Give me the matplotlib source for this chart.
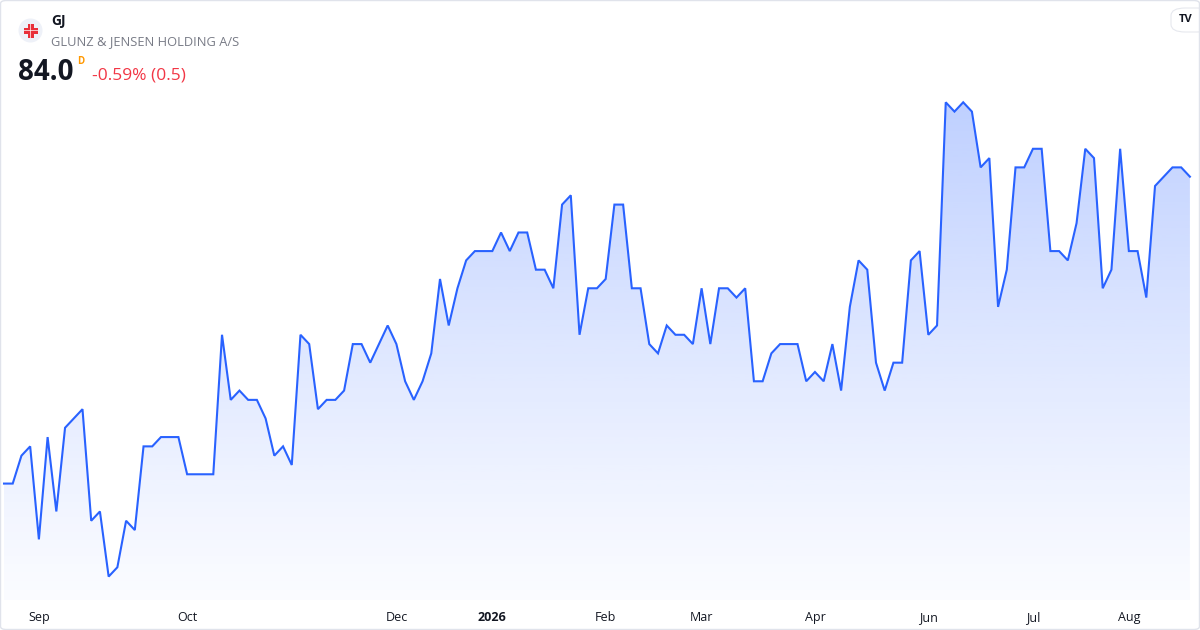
"""GJ (Glunz & Jensen Holding A/S) daily close, TradingView-style area chart."""

import matplotlib

matplotlib.use("Agg")
import matplotlib.pyplot as plt
import numpy as np
from matplotlib.patches import Circle, FancyBboxPatch, Rectangle

plt.rcParams["font.family"] = ["Open Sans", "DejaVu Sans"]

# Daily closes (DKK), one per traded session.
closes = [
    67.5, 67.5, 69.0, 69.5, 64.5, 70.0, 66.0, 70.5, 71.0, 71.5,
    65.5, 66.0, 62.5, 63.0, 65.5, 65.0, 69.5, 69.5, 70.0, 70.0,
    70.0, 68.0, 68.0, 68.0, 68.0, 75.5, 72.0, 72.5, 72.0, 72.0,
    71.0, 69.0, 69.5, 68.5, 75.5, 75.0, 71.5, 72.0, 72.0, 72.5,
    75.0, 75.0, 74.0, 75.0, 76.0, 75.0, 73.0, 72.0, 73.0, 74.5,
    78.5, 76.0, 78.0, 79.5, 80.0, 80.0, 80.0, 81.0, 80.0, 81.0,
    81.0, 79.0, 79.0, 78.0, 82.5, 83.0, 75.5, 78.0, 78.0, 78.5,
    82.5, 82.5, 78.0, 78.0, 75.0, 74.5, 76.0, 75.5, 75.5, 75.0,
    78.0, 75.0, 78.0, 78.0, 77.5, 78.0, 73.0, 73.0, 74.5, 75.0,
    75.0, 75.0, 73.0, 73.5, 73.0, 75.0, 72.5, 77.0, 79.5, 79.0,
    74.0, 72.5, 74.0, 74.0, 79.5, 80.0, 75.5, 76.0, 88.0, 87.5,
    88.0, 87.5, 84.5, 85.0, 77.0, 79.0, 84.5, 84.5, 85.5, 85.5,
    80.0, 80.0, 79.5, 81.5, 85.5, 85.0, 78.0, 79.0, 85.5, 80.0,
    80.0, 77.5, 83.5, 84.0, 84.5, 84.5, 84.0,
]

# Month labels sit on the session index where each month starts.
tick_index = [4, 21, 45, 56, 69, 80, 93, 106, 118, 129]
tick_labels = ["Sep", "Oct", "Dec", "2026", "Feb", "Mar", "Apr", "Jun", "Jul", "Aug"]

symbol = "GJ"
company = "GLUNZ & JENSEN HOLDING A/S"
last_price = "84.0"
change_text = "-0.59% (0.5)"

LINE = "#2962ff"
TEXT = "#131722"
GREY = "#787b86"
RED = "#f23645"

W, H = 1200, 630
fig = plt.figure(figsize=(W / 100, H / 100), dpi=100)
fig.patch.set_facecolor("white")

# plot pane: full width (minus hidden price scale), down to the time axis
ax = fig.add_axes([0.0, 30 / H, 1192 / W, 1 - 30 / H])
ax.set_facecolor("white")
for s in ax.spines.values():
    s.set_visible(False)

x = np.arange(len(closes))
y = np.array(closes)
y_bottom, y_top = 61.24, 93.5
ax.set_xlim(-0.46, 136.24)
ax.set_ylim(y_bottom, y_top)

# vertical gradient under the line, clipped to the area polygon
grad = np.linspace(0.0, 1.0, 256)
rgba = np.zeros((256, 1, 4))
rgba[..., 0] = 41 / 255
rgba[..., 1] = 98 / 255
rgba[..., 2] = 1.0
rgba[:, 0, 3] = 0.02 + 0.28 * grad ** 1.1
img = ax.imshow(
    rgba,
    aspect="auto",
    origin="lower",
    extent=(x[0], x[-1], y_bottom, y.max()),
    zorder=1,
    interpolation="bilinear",
)
poly = ax.fill_between(x, y, y_bottom, facecolor="none", edgecolor="none")
img.set_clip_path(poly.get_paths()[0], transform=ax.transData)

ax.plot(x, y, color=LINE, linewidth=1.5, solid_joinstyle="miter", zorder=3)

ax.set_yticks([])
ax.set_xticks(tick_index)
ax.set_xticklabels(tick_labels, fontsize=9, color=TEXT)
for lbl in ax.get_xticklabels():
    if lbl.get_text() == "2026":
        lbl.set_fontweight("bold")
ax.tick_params(axis="x", length=0, pad=8)


# header -------------------------------------------------------------
def px(xp, yp):
    return xp / W, 1 - yp / H


def inch(xp, yp):
    return xp / 100, (H - yp) / 100


# logo: pale round badge with a red cross
fig.patches.append(Circle(inch(30.5, 30.5), 0.12, transform=fig.dpi_scale_trans,
                          facecolor="#eef1f8", edgecolor="none"))
for (w, h) in [(6, 14), (14, 6)]:
    fig.patches.append(Rectangle(inch(30.5 - w / 2, 30.5 + h / 2), w / 100, h / 100,
                                 transform=fig.dpi_scale_trans, facecolor="#e8303a",
                                 edgecolor="none"))
for (w, h) in [(1, 14), (14, 1)]:
    fig.patches.append(Rectangle(inch(30.5 - w / 2, 30.5 + h / 2), w / 100, h / 100,
                                 transform=fig.dpi_scale_trans, facecolor="white",
                                 edgecolor="none", alpha=0.7))

fig.text(*px(51, 21), symbol, fontsize=10, fontweight="bold", color=TEXT, va="center")
fig.text(*px(51, 42), company, fontsize=9.3, color=GREY, va="center")
fig.text(*px(18, 73), last_price, fontsize=20, fontweight="bold", color=TEXT, va="center")
fig.text(*px(77, 62), "D", fontsize=7, fontweight="bold", color="#ff9800", va="center")
fig.text(*px(92, 76), change_text, fontsize=12.5, color=RED, va="center")

# TradingView badge top right
fig.patches.append(FancyBboxPatch(px(1171, 32), 40 / W, 24 / H,
                                  boxstyle="round,pad=0,rounding_size=0.012",
                                  transform=fig.transFigure, facecolor="white",
                                  edgecolor="#e6e8ee", linewidth=0.8))
fig.text(*px(1186, 20), "TV", fontsize=8, fontweight="bold", color=TEXT,
         ha="center", va="center")

# outer card border
fig.patches.append(FancyBboxPatch((0.5 / W, 0.5 / H), (W - 1) / W, (H - 1) / H,
                                  boxstyle="round,pad=0,rounding_size=0.005",
                                  transform=fig.transFigure, facecolor="none",
                                  edgecolor="#e0e3eb", linewidth=1.0))

fig.savefig("out.png", dpi=100, facecolor="white")
plt.close(fig)
